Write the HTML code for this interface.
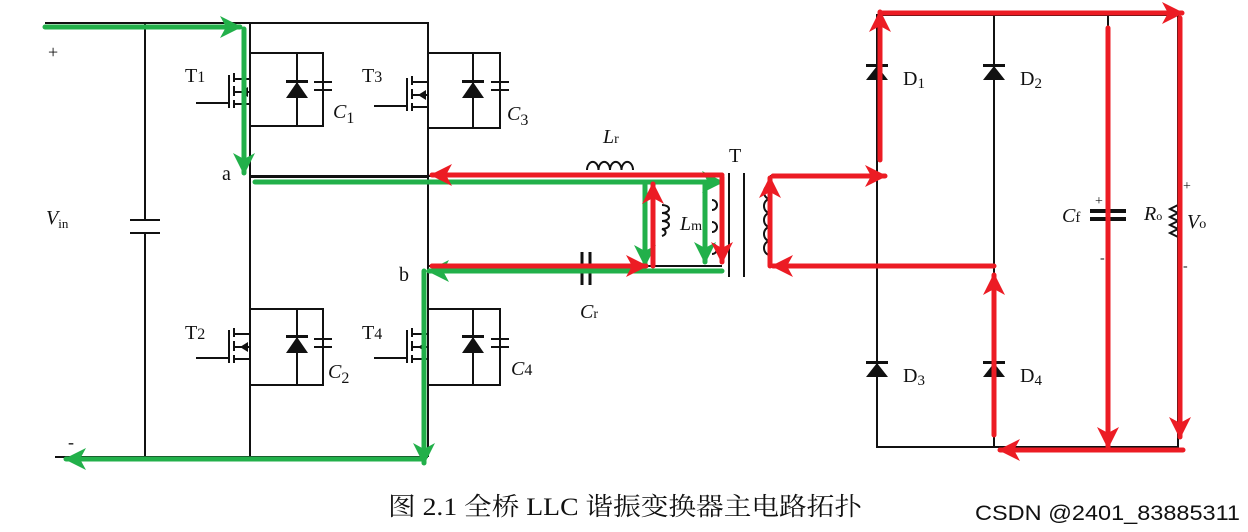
<!DOCTYPE html>
<html><head><meta charset="utf-8"><style>
html,body{margin:0;padding:0;background:#fff;width:1248px;height:532px;overflow:hidden}
svg{display:block}
text{font-family:"Liberation Serif","Noto Serif CJK SC",serif;fill:#111}
</style></head><body>
<svg width="1248" height="532" viewBox="0 0 1248 532" xmlns="http://www.w3.org/2000/svg">
<defs>
<marker id="g" markerUnits="userSpaceOnUse" markerWidth="24" markerHeight="22" refX="20" refY="11" orient="auto"><path d="M0,0 L22,11 L0,22 L6,11 Z" fill="#22b04a"/></marker>
<marker id="r" markerUnits="userSpaceOnUse" markerWidth="24" markerHeight="22" refX="20" refY="11" orient="auto"><path d="M0,0 L22,11 L0,22 L6,11 Z" fill="#ec1c24"/></marker>
</defs>
<g stroke="#111" stroke-width="2" fill="none">
<path d="M45,23 H428 V457 M55,457 H428 M145,23 V220 M145,233 V457 M130,220 H160 M130,233 H160"/>
<path d="M250,23 V457 M250,177 H428"/>
<path d="M428,266 H722 M250,176 H722"/>
<path d="M250,53 H323 V126 H250 M297,53 V126 M323,53 V82 M323,90 V126 M314,82 H332 M314,90 H332"/>
<path d="M428,53 H500 V128 H428 M473,53 V128 M500,53 V82 M500,90 V128 M491,82 H509 M491,90 H509"/>
<path d="M250,309 H323 V385 H250 M297,309 V385 M323,309 V339 M323,347 V385 M314,339 H332 M314,347 H332"/>
<path d="M428,309 H500 V385 H428 M473,309 V385 M500,309 V339 M500,347 V385 M491,339 H509 M491,347 H509"/>
<path d="M196,103 H229 M229,75 V108 M234,73 V82 M234,86 V96 M234,100 V108 M234,79 H250 M234,104 H250 M234,92 H250"/>
<path d="M374,106 H407 M407,78 V111 M412,76 V85 M412,89 V99 M412,103 V111 M412,82 H428 M412,107 H428 M412,95 H428"/>
<path d="M196,358 H229 M229,330 V363 M234,328 V337 M234,341 V351 M234,355 V363 M234,334 H250 M234,359 H250 M234,347 H250"/>
<path d="M374,358 H407 M407,330 V363 M412,328 V337 M412,341 V351 M412,355 V363 M412,334 H428 M412,359 H428 M412,347 H428"/>
<path d="M587,170 a5.7,8 0 0 1 11.5,0 a5.7,8 0 0 1 11.5,0 a5.7,8 0 0 1 11.5,0 a5.7,8 0 0 1 11.5,0"/>
<path d="M662,205 a7,4 0 0 1 0,8 a7,4 0 0 1 0,8 a7,4 0 0 1 0,8 a7,4 0 0 1 0,7" />
<path d="M582,252 V285 M590,252 V285" stroke-width="3"/>
<path d="M729,173 V277 M744,173 V277"/>
<path d="M712,200 a5,5 0 0 1 0,10 M712,222 a5,5 0 0 1 0,10 M712,244 a5,5 0 0 1 0,10"/>
<path d="M770,185 a6,7 0 0 0 0,14 a6,7 0 0 0 0,14 a6,7 0 0 0 0,14 a6,7 0 0 0 0,14 a6,7 0 0 0 0,14"/>
<path d="M770,176 H877 M770,266 H994"/>
<path d="M877,15 H1178 V447 H877 Z M994,15 V447 M1108,15 V211 M1108,219 V447"/>
<path d="M1090,211 H1126 M1090,219 H1126" stroke-width="4"/>
<path d="M1178,205 l-8,4 l8,4 l-8,4 l8,4 l-8,4 l8,4 l-8,4 l8,4" fill="none"/>
</g>
<g fill="#111">
<path d="M286,98 L308,98 L297,82 Z"/><path d="M286,80 H308 V83 H286Z"/>
<path d="M462,98 L484,98 L473,82 Z"/><path d="M462,80 H484 V83 H462Z"/>
<path d="M286,353 L308,353 L297,337 Z"/><path d="M286,335 H308 V338 H286Z"/>
<path d="M462,353 L484,353 L473,337 Z"/><path d="M462,335 H484 V338 H462Z"/>
<path d="M866,80 L888,80 L877,66 Z"/><path d="M866,64 H888 V67 H866Z"/>
<path d="M983,80 L1005,80 L994,66 Z"/><path d="M983,64 H1005 V67 H983Z"/>
<path d="M866,377 L888,377 L877,363 Z"/><path d="M866,361 H888 V364 H866Z"/>
<path d="M983,377 L1005,377 L994,363 Z"/><path d="M983,361 H1005 V364 H983Z"/>
<path d="M240,92 l8,-5 v10z"/><path d="M418,95 l8,-5 v10z"/>
<path d="M240,347 l8,-5 v10z"/><path d="M418,347 l8,-5 v10z"/>
</g>
<g font-size="20">
<text x="48" y="58" font-size="18" fill="#555">+</text>
<text x="68" y="448" font-size="18">-</text>
<text x="46" y="224" font-style="italic">V<tspan font-size="13" font-style="normal" dy="4">in</tspan></text>
<text x="185" y="82">T<tspan font-size="16">1</tspan></text>
<text x="362" y="82">T<tspan font-size="16">3</tspan></text>
<text x="185" y="339">T<tspan font-size="16">2</tspan></text>
<text x="362" y="339">T<tspan font-size="16">4</tspan></text>
<text x="333" y="118" font-style="italic">C<tspan font-size="16" font-style="normal" dy="5">1</tspan></text>
<text x="507" y="120" font-style="italic">C<tspan font-size="16" font-style="normal" dy="5">3</tspan></text>
<text x="328" y="378" font-style="italic">C<tspan font-size="16" font-style="normal" dy="5">2</tspan></text>
<text x="511" y="375" font-style="italic">C<tspan font-size="16" font-style="normal">4</tspan></text>
<text x="222" y="180">a</text>
<text x="399" y="281">b</text>
<text x="603" y="143" font-style="italic">L<tspan font-size="14" font-style="normal">r</tspan></text>
<text x="680" y="230" font-style="italic">L<tspan font-size="14" font-style="normal">m</tspan></text>
<text x="580" y="318" font-style="italic">C<tspan font-size="14" font-style="normal">r</tspan></text>
<text x="729" y="162">T</text>
<text x="903" y="85">D<tspan font-size="15" dy="3">1</tspan></text>
<text x="1020" y="85">D<tspan font-size="15" dy="3">2</tspan></text>
<text x="903" y="382">D<tspan font-size="15" dy="3">3</tspan></text>
<text x="1020" y="382">D<tspan font-size="15" dy="3">4</tspan></text>
<text x="1062" y="222" font-style="italic">C<tspan font-size="15" font-style="normal">f</tspan></text>
<text x="1095" y="205" font-size="14">+</text>
<text x="1100" y="262" font-size="14">-</text>
<text x="1144" y="220" font-style="italic">R<tspan font-size="12" font-style="normal">o</tspan></text>
<text x="1187" y="228" font-style="italic">V<tspan font-size="14" font-style="normal">o</tspan></text>
<text x="1183" y="190" font-size="14">+</text>
<text x="1183" y="270" font-size="14">-</text>
</g>
<text x="388" y="515" font-size="25" textLength="474" lengthAdjust="spacingAndGlyphs">图 2.1  全桥 LLC 谐振变换器主电路拓扑</text>
<text x="975" y="520" font-size="21" fill="#c4c4c4" textLength="265" lengthAdjust="spacingAndGlyphs" style="font-family:'Liberation Sans',sans-serif">CSDN @2401_83885311</text>
<g stroke="#22b04a" stroke-width="5" fill="none" stroke-linecap="round">
<path d="M45,27 H240" marker-end="url(#g)"/>
<path d="M244,29 V173" marker-end="url(#g)"/>
<path d="M255,182 H722" marker-end="url(#g)"/>
<path d="M645,184 V265" marker-end="url(#g)"/>
<path d="M705,184 V262" marker-end="url(#g)"/>
<path d="M722,271 H429" marker-end="url(#g)"/>
<path d="M424,271 V463" marker-end="url(#g)"/>
<path d="M423,459 H66" marker-end="url(#g)"/>
</g>
<g stroke="#ec1c24" stroke-width="5" fill="none" stroke-linecap="round">
<path d="M722,175 H432" marker-end="url(#r)"/>
<path d="M722,177 V262" marker-end="url(#r)"/>
<path d="M653,266 V184" marker-end="url(#r)"/>
<path d="M432,266 H646" marker-end="url(#r)"/>
<path d="M770,266 V178" marker-end="url(#r)"/>
<path d="M773,176 H885" marker-end="url(#r)"/>
<path d="M994,266 H773" marker-end="url(#r)"/>
<path d="M880,160 V12" marker-end="url(#r)"/>
<path d="M880,13 H1182" marker-end="url(#r)"/>
<path d="M1108,28 V447" marker-end="url(#r)"/>
<path d="M1180,18 V437" marker-end="url(#r)"/>
<path d="M1183,450 H1000" marker-end="url(#r)"/>
<path d="M994,435 V275" marker-end="url(#r)"/>
</g>
</svg>
</body></html>
